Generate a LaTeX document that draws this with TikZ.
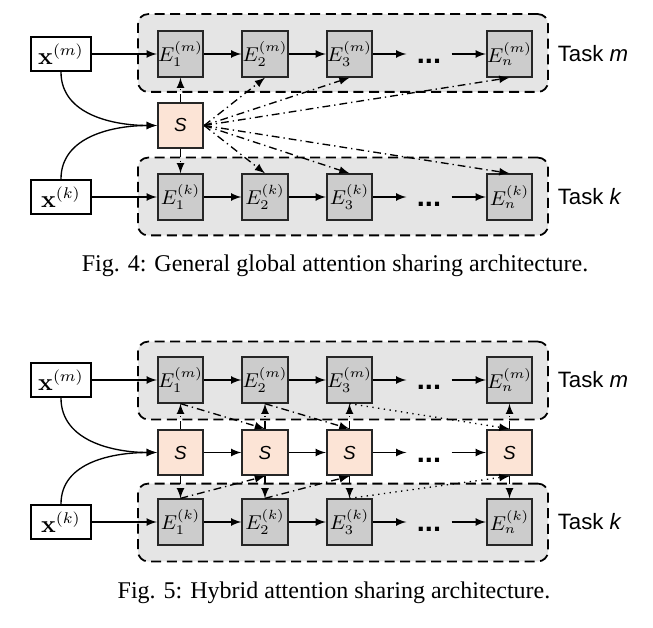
\documentclass[tikz,border=0pt]{standalone}
\usepackage{amsmath}
\usepackage[no-math]{fontspec}
\setmainfont{Liberation Serif}
\setsansfont{Liberation Sans}
\usepackage{xcolor}
\usepackage{tikz}
\usetikzlibrary{calc}
\usetikzlibrary{arrows}
\usetikzlibrary{positioning}

\definecolor{attnfill}{RGB}{252,228,214}

\begin{document}
\begin{tikzpicture}[x=0.45pt,y=-0.45pt]
    \tikzstyle{every node}=[font=\fontsize{9}{10}\selectfont]
    \tikzstyle{grp}=[draw=black,thick,dash pattern=on 4.5pt off 2.5pt,fill=black!10,rounded corners=4.5pt,minimum width=184.5pt,minimum height=35pt,inner sep=0pt]
    \tikzstyle{enc}=[draw=black!85,thick,fill=black!20,minimum size=20.5pt,inner sep=0pt]
    \tikzstyle{att}=[draw=black!85,thick,fill=attnfill,minimum size=20.5pt,inner sep=0pt,font=\sffamily\itshape\fontsize{8.5}{10}\selectfont]
    \tikzstyle{inp}=[draw=black,thick,fill=white,minimum width=27pt,minimum height=15.5pt,inner sep=1pt,font=\fontsize{10.5}{12}\selectfont]
    \tikzstyle{dots}=[minimum width=20pt,inner sep=0pt,text height=8.6pt,text depth=0pt,font=\sffamily\bfseries\fontsize{13}{14}\selectfont]
    \tikzstyle{task}=[anchor=west,font=\sffamily\fontsize{10}{12}\selectfont]
    \tikzstyle{figcap}=[anchor=base,font=\fontsize{10.8}{13}\selectfont]
    \tikzstyle{flow}=[-latex,semithick]
    \tikzstyle{share}=[-latex,semithick,dash pattern=on 3.5pt off 1.8pt on 0.6pt off 1.8pt]
    \tikzstyle{skip}=[-latex,semithick,dotted]

   \useasboundingbox[fill=white] (0,0) rectangle (653,628);

   % Fig. 4: global sharing
   \node[grp] (gm) at (343,53) {};
   \node[grp] (gk) at (343,196.5) {};

   \node[inp] (xm) at (61,54) {$\mathbf{x}^{(m)}$};
   \node[inp] (xk) at (61,197) {$\mathbf{x}^{(k)}$};

   \node[enc] (e1m) at (180.5,54) {$E_1^{(m)}$};
   \node[enc] (e2m) at (265,54) {$E_2^{(m)}$};
   \node[enc] (e3m) at (349.5,54) {$E_3^{(m)}$};
   \node[dots] (dm) at (429,54) {...};
   \node[enc] (enm) at (509.5,54) {$E_n^{(m)}$};
   \node[task] (tm) at (550,54) {Task \textit{m}};

   \node[enc] (e1k) at (180.5,197) {$E_1^{(k)}$};
   \node[enc] (e2k) at (265,197) {$E_2^{(k)}$};
   \node[enc] (e3k) at (349.5,197) {$E_3^{(k)}$};
   \node[dots] (dk) at (429,197) {...};
   \node[enc] (enk) at (509.5,197) {$E_n^{(k)}$};
   \node[task] (tk) at (550,197) {Task \textit{k}};

   \node[att] (s) at (180.5,125.5) {S};

   \draw[flow] (xm) -- (e1m);
   \draw[flow] (e1m) -- (e2m);
   \draw[flow] (e2m) -- (e3m);
   \draw[flow] (e3m) -- (dm);
   \draw[flow] (dm) -- (enm);
   \draw[flow] (xk) -- (e1k);
   \draw[flow] (e1k) -- (e2k);
   \draw[flow] (e2k) -- (e3k);
   \draw[flow] (e3k) -- (dk);
   \draw[flow] (dk) -- (enk);

   \draw[flow] (xm.south) to[out=-90,in=180] (s.west);
   \draw[flow] (xk.north) to[out=90,in=180] (s.west);

   \draw[share] (s) -- (e1m);
   \draw[share] (s) -- (e1k);
   \draw[share] (s.east) -- (e2m.south);
   \draw[share] (s.east) -- (e3m.south);
   \draw[share] (s.east) -- (enm.south);
   \draw[share] (s.east) -- (e2k.north);
   \draw[share] (s.east) -- (e3k.north);
   \draw[share] (s.east) -- (enk.north);

   \node[figcap] (cap4) at (335,272) {Fig. 4: General global attention sharing architecture.};

   % Fig. 5: hybrid sharing
   \node[grp] (gm2) at (343,380.5) {};
   \node[grp] (gk2) at (343,522.5) {};

   \node[inp] (xm2) at (61,380) {$\mathbf{x}^{(m)}$};
   \node[inp] (xk2) at (61,522) {$\mathbf{x}^{(k)}$};

   \node[enc] (e1m2) at (180.5,380) {$E_1^{(m)}$};
   \node[enc] (e2m2) at (265,380) {$E_2^{(m)}$};
   \node[enc] (e3m2) at (349.5,380) {$E_3^{(m)}$};
   \node[dots] (dm2) at (429,380) {...};
   \node[enc] (enm2) at (509.5,380) {$E_n^{(m)}$};
   \node[task] (tm2) at (550,380) {Task \textit{m}};

   \node[att] (s1) at (180.5,452.5) {S};
   \node[att] (s2) at (265,452.5) {S};
   \node[att] (s3) at (349.5,452.5) {S};
   \node[dots] (ds) at (429,452.5) {...};
   \node[att] (sn) at (509.5,452.5) {S};

   \node[enc] (e1k2) at (180.5,522) {$E_1^{(k)}$};
   \node[enc] (e2k2) at (265,522) {$E_2^{(k)}$};
   \node[enc] (e3k2) at (349.5,522) {$E_3^{(k)}$};
   \node[dots] (dk2) at (429,522) {...};
   \node[enc] (enk2) at (509.5,522) {$E_n^{(k)}$};
   \node[task] (tk2) at (550,522) {Task \textit{k}};

   \draw[flow] (xm2) -- (e1m2);
   \draw[flow] (e1m2) -- (e2m2);
   \draw[flow] (e2m2) -- (e3m2);
   \draw[flow] (e3m2) -- (dm2);
   \draw[flow] (dm2) -- (enm2);
   \draw[flow] (s1) -- (s2);
   \draw[flow] (s2) -- (s3);
   \draw[flow] (s3) -- (ds);
   \draw[flow] (ds) -- (sn);
   \draw[flow] (xk2) -- (e1k2);
   \draw[flow] (e1k2) -- (e2k2);
   \draw[flow] (e2k2) -- (e3k2);
   \draw[flow] (e3k2) -- (dk2);
   \draw[flow] (dk2) -- (enk2);

   \draw[flow] (xm2.south) to[out=-90,in=180] (s1.west);
   \draw[flow] (xk2.north) to[out=90,in=180] (s1.west);

   \draw[share] (s1) -- (e1m2);
   \draw[share] (s2) -- (e2m2);
   \draw[share] (s3) -- (e3m2);
   \draw[share] (sn) -- (enm2);
   \draw[share] (s1) -- (e1k2);
   \draw[share] (s2) -- (e2k2);
   \draw[share] (s3) -- (e3k2);
   \draw[share] (sn) -- (enk2);

   \draw[share] (e1m2.south) -- (s2.north);
   \draw[share] (e2m2.south) -- (s3.north);
   \draw[skip] (e3m2.south) -- (sn.north);
   \draw[share] (e1k2.north) -- (s2.south);
   \draw[share] (e2k2.north) -- (s3.south);
   \draw[skip] (e3k2.north) -- (sn.south);

   \node[figcap] (cap5) at (334,598) {Fig. 5: Hybrid attention sharing architecture.};

  \end{tikzpicture}
\end{document}
